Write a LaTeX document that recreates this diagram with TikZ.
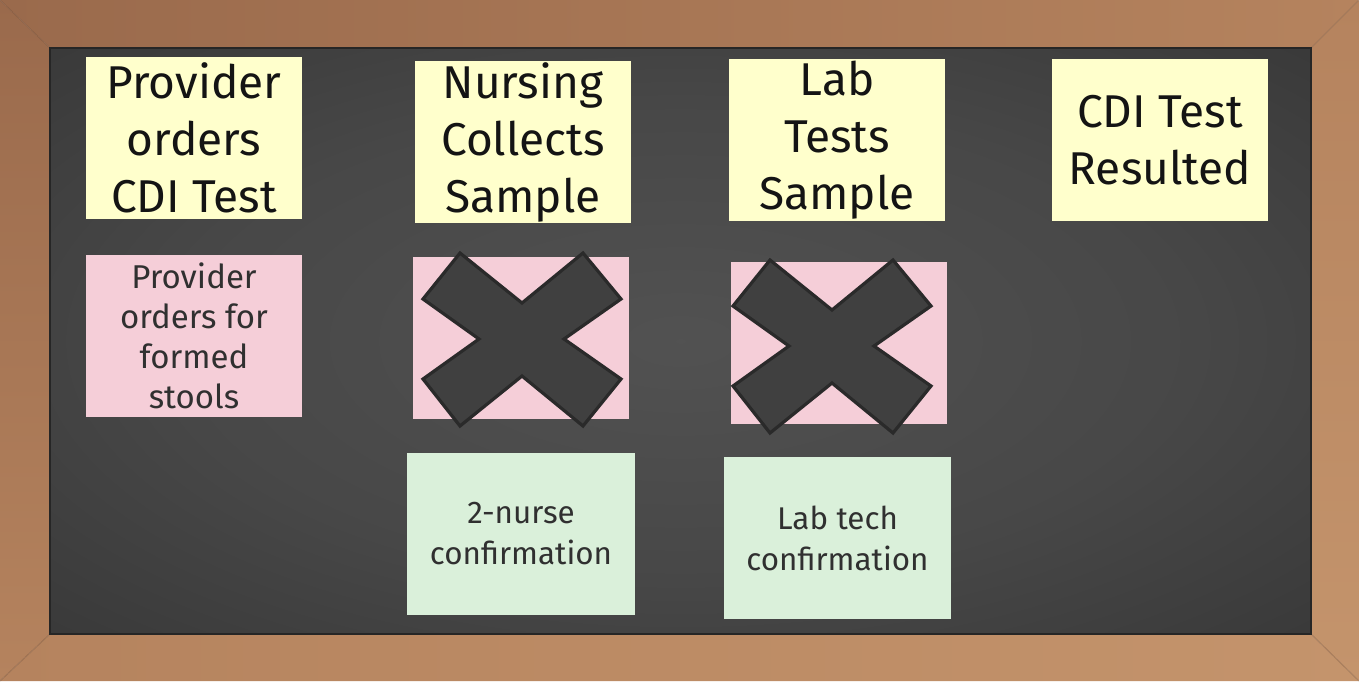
\documentclass[tikz,border=0pt]{standalone}
\usepackage{fontspec}
\setmainfont{Fira Sans}
\usetikzlibrary{shadings}
\definecolor{woodA}{HTML}{9A6A4C}
\definecolor{woodB}{HTML}{B5835E}
\definecolor{woodC}{HTML}{C4946C}
\definecolor{noteYellow}{HTML}{FFFFCC}
\definecolor{notePink}{HTML}{F5CED8}
\definecolor{noteGreen}{HTML}{DAF0DA}
\definecolor{crossFill}{HTML}{404040}
\definecolor{crossEdge}{HTML}{2A2A2A}
\definecolor{inkDark}{HTML}{141414}
\definecolor{inkSoft}{HTML}{303030}
% soft, wide chalkboard shading
\pgfdeclareradialshading{chalkboard}{\pgfpoint{0bp}{0bp}}{%
  color(0bp)=(black!68!white); color(20bp)=(black!72!white);
  color(40bp)=(black!79!white); color(50bp)=(black!83!white)}
\tikzset{
  note/.style={inner sep=0pt, align=center, minimum width=108pt, minimum height=81pt},
  yellownote/.style={note, fill=noteYellow, text=inkDark, font=\fontsize{23}{28.5}\selectfont},
  pinknote/.style={note, fill=notePink, text=inkSoft, font=\fontsize{16.5}{20}\selectfont},
  greennote/.style={note, fill=noteGreen, text=inkSoft, minimum width=114pt, font=\fontsize{15.7}{20.5}\selectfont},
  xmark/.pic={
    \draw[fill=crossFill, draw=crossEdge, line width=1.6pt, line join=miter]
      (-62,-86) -- (0,-36) -- (61,-86) -- (99,-40) -- (42,0) -- (99,40) --
      (61,87) -- (0,37) -- (-62,87) -- (-99,40) -- (-43,0) -- (-99,-40) -- cycle;
  }
}
\begin{document}
\begin{tikzpicture}[x=0.5pt, y=-0.5pt]
\useasboundingbox (0,0) rectangle (1359,681);
% wooden frame, mitred at the corners
\shade[left color=woodA, right color=woodB] (0,0) -- (1359,0) -- (1311,48) -- (50,48) -- cycle;
\shade[top color=woodA, bottom color=woodB] (0,0) -- (50,48) -- (50,634) -- (0,681) -- cycle;
\shade[top color=woodB, bottom color=woodC] (1359,0) -- (1359,681) -- (1311,634) -- (1311,48) -- cycle;
\shade[left color=woodB, right color=woodC] (0,681) -- (50,634) -- (1311,634) -- (1359,681) -- cycle;
\draw[woodA!70!black, opacity=0.35, line width=0.5pt] (0,0) -- (50,48) (1359,0) -- (1311,48) (0,681) -- (50,634) (1359,681) -- (1311,634);
% chalkboard
\shade[shading=chalkboard] (50,48) rectangle (1311,634);
\draw[black!85, line width=1pt] (50,48) rectangle (1311,634);
% top row: process steps
\node[yellownote] (order) at (194,138) {Provider\\orders\\CDI Test};
\node[yellownote] (collect) at (523,142) {Nursing\\Collects\\Sample};
\node[yellownote] (test) at (837,140) {Lab\\Tests\\Sample};
\node[yellownote] (result) at (1160,140) {CDI Test\\Resulted};
% second row: issues
\node[pinknote] (formed) at (194,336) {Provider\\orders for\\formed\\stools};
\node[pinknote] (issueA) at (521,338) {};
\node[pinknote] (issueB) at (839,343) {};
\pic at (522,339) {xmark};
\pic at (832,346) {xmark};
% third row: fixes
\node[greennote] (nurse) at (521,534) {2-nurse\\confirmation};
\node[greennote, minimum width=113.5pt] (tech) at (837.5,538) {Lab tech\\confirmation};
\end{tikzpicture}
\end{document}
